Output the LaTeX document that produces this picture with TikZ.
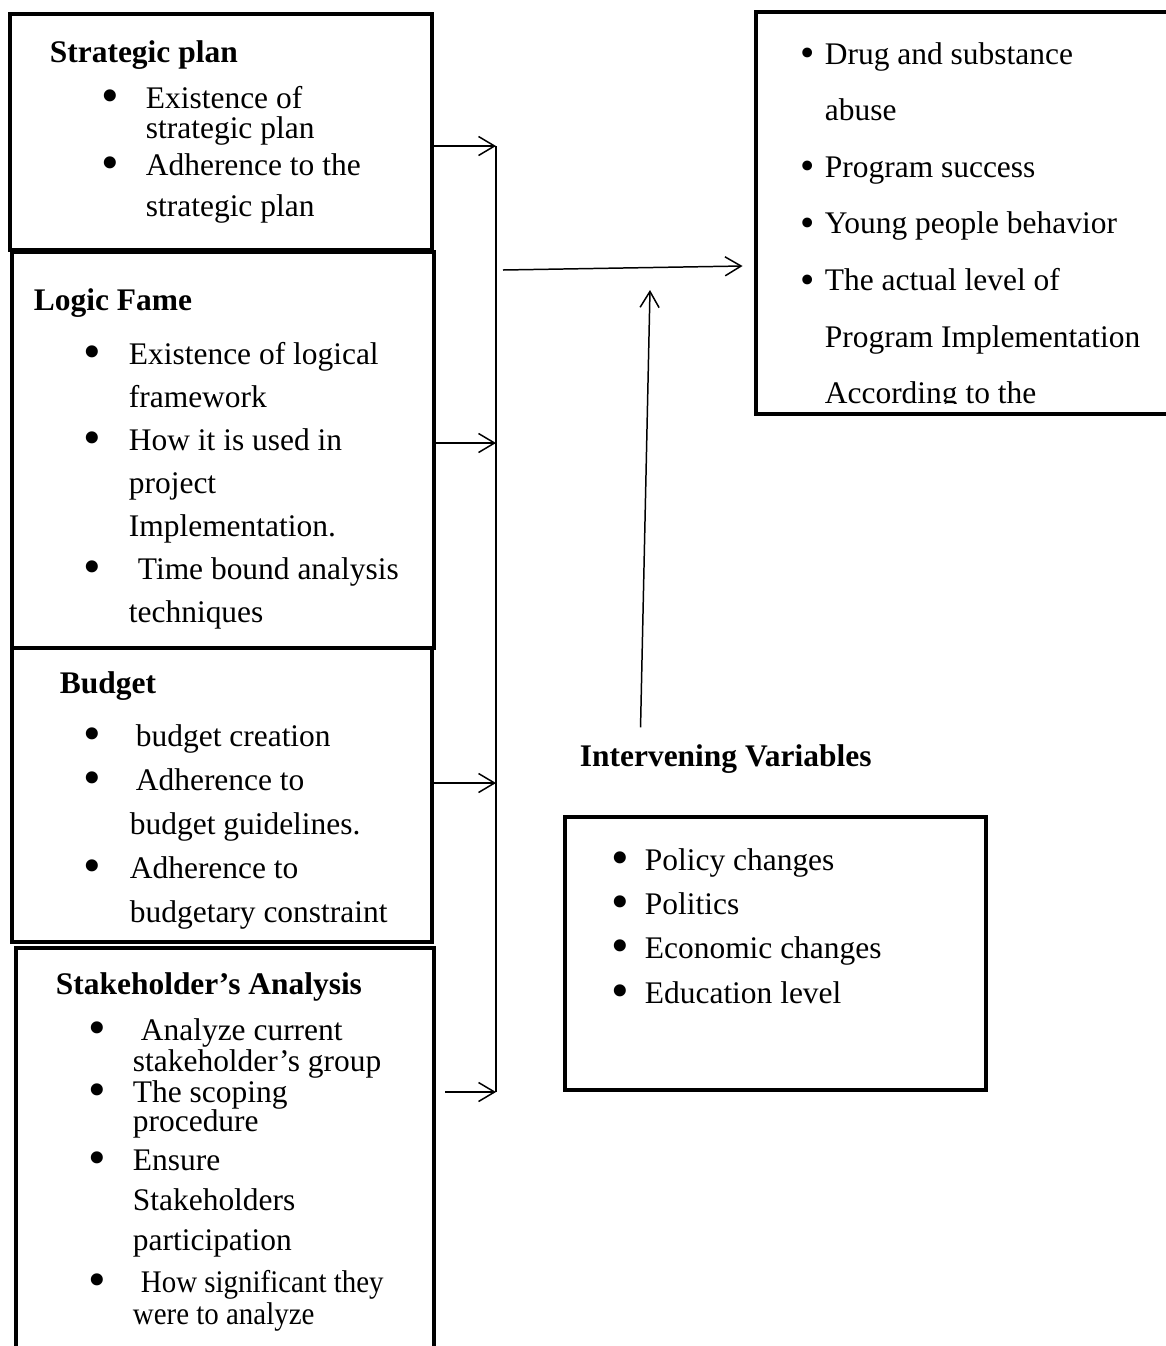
\documentclass[tikz,border=0pt]{standalone}
\usepackage{fontspec}
\setmainfont{Liberation Serif}
\usepackage{graphicx}
\usetikzlibrary{arrows.meta,positioning}

\newcommand{\bigdot}{\raisebox{-0.13em}{\scalebox{1.6}{\textbullet}}}
\newcommand{\bi}[2]{\hspace*{#1}\makebox[#2][l]{\bigdot}}
\newcommand{\si}[1]{\makebox[#1][l]{\raisebox{-0.08em}{\scalebox{1.3}{\textbullet}}}}

\begin{document}
\begin{tikzpicture}[
    box/.style={draw, line width=2.8pt, inner sep=0pt},
    txt/.style={anchor=north west, align=left, inner sep=0pt,
        font=\fontsize{17.9}{#1}\selectfont},
    heading/.style={anchor=base west, inner sep=0pt,
        font=\fontsize{17.9}{20}\selectfont\bfseries},
    link/.style={line width=0.85pt},
    arr/.style={link, -{Straight Barb[length=0.32cm, width=0.38cm]}},
]

\useasboundingbox (0,0) rectangle (23.32,-26.92);

% === Bus position ===
\def\busX{9.92}

% === Independent variables (left column) ===
\node[box, minimum width=8.44cm, minimum height=4.72cm] (sp) at (4.42,-2.64) {};
\node[box, minimum width=8.44cm, minimum height=7.92cm] (lf) at (4.46,-9.00) {};
\node[box, minimum width=8.40cm, minimum height=5.88cm] (bg) at (4.44,-15.90) {};
\node[box, minimum width=8.36cm, minimum height=8.64cm] (sh) at (4.50,-23.28) {};

\node[txt=17.1] (sptxt) at ([shift={(0.84,-0.57)}]sp.north west)
    {\textbf{Strategic plan}\\[9.1pt]
     \bi{1.04cm}{0.88cm}Existence of\\
     \hspace*{1.92cm}strategic plan\\[4pt]
     \bi{1.04cm}{0.88cm}Adherence to the\\[6.2pt]
     \hspace*{1.92cm}strategic plan};

\node[txt=24.5] (lftxt) at ([shift={(0.48,-0.77)}]lf.north west)
    {\textbf{Logic Fame}\\[6.2pt]
     \bi{1.0cm}{0.9cm}Existence of logical\\
     \hspace*{1.9cm}framework\\
     \bi{1.0cm}{0.9cm}How it is used in\\
     \hspace*{1.9cm}project\\
     \hspace*{1.9cm}Implementation.\\
     \bi{1.0cm}{0.9cm}\hspace*{0.18cm}Time bound analysis\\
     \hspace*{1.9cm}techniques};

\node[txt=25] (bgtxt) at ([shift={(1.0,-0.51)}]bg.north west)
    {\textbf{Budget}\\[5.2pt]
     \bi{0.48cm}{0.92cm}\hspace*{0.12cm}budget creation\\
     \bi{0.48cm}{0.92cm}\hspace*{0.12cm}Adherence to\\
     \hspace*{1.4cm}budget guidelines.\\
     \bi{0.48cm}{0.92cm}Adherence to\\
     \hspace*{1.4cm}budgetary constraint};

\node[txt=17.6] (shtxt) at ([shift={(0.84,-0.53)}]sh.north west)
    {\textbf{Stakeholder’s Analysis}\\[8.6pt]
     \bi{0.66cm}{0.88cm}\hspace*{0.16cm}Analyze current\\
     \hspace*{1.54cm}stakeholder’s group\\
     \bi{0.66cm}{0.88cm}The scoping\\[-1.1pt]
     \hspace*{1.54cm}procedure\\[4.6pt]
     \bi{0.66cm}{0.88cm}Ensure\\[5.2pt]
     \hspace*{1.54cm}Stakeholders\\[5.2pt]
     \hspace*{1.54cm}participation\\[6.3pt]
     \bi{0.66cm}{0.88cm}\hspace*{0.16cm}\scalebox{0.92}[1]{How significant they}\\[0.6pt]
     \hspace*{1.54cm}\scalebox{0.92}[1]{were to analyze}};

% === Dependent variable (top right) ===
\node[box, minimum width=8.58cm, minimum height=8.04cm] (oc) at (19.41,-4.26) {};
\begin{scope}
    \clip (oc.north west) rectangle ([yshift=0.26cm]oc.south east);
    \node[txt=32.2] (octxt) at ([shift={(0.94,-0.65)}]oc.north west)
        {\si{0.48cm}Drug and substance\\
         \hspace*{0.48cm}abuse\\
         \si{0.48cm}Program success\\
         \si{0.48cm}Young people behavior\\
         \si{0.48cm}The actual level of\\
         \hspace*{0.48cm}Program Implementation\\
         \hspace*{0.48cm}According to the};
\end{scope}

% === Intervening variables ===
\node[box, minimum width=8.42cm, minimum height=5.46cm] (ivb) at (15.51,-19.07) {};
\node[txt=25.2] (ivtxt) at ([shift={(0.98,-0.67)}]ivb.north west)
    {\bi{0cm}{0.66cm}Policy changes\\
     \bi{0cm}{0.66cm}Politics\\
     \bi{0cm}{0.66cm}Economic changes\\
     \bi{0cm}{0.66cm}Education level};
\node[heading] (ivl) at ([shift={(0.34,0.96)}]ivb.north west) {Intervening Variables};

% === Connectors ===
\coordinate (bus1) at (\busX,-2.92);
\coordinate (bus2) at (\busX,-8.86);
\coordinate (bus3) at (\busX,-15.66);
\coordinate (bus4) at (\busX,-21.84);
\draw[link] (bus1) -- (bus4);

\draw[arr] (sp.east |- bus1) -- (bus1);
\draw[arr] (lf.east |- bus2) -- (bus2);
\draw[arr] (bg.east |- bus3) -- (bus3);
\draw[arr] ([xshift=0.18cm]sh.east |- bus4) -- (bus4);

% bus to outcome
\coordinate (hstart) at (10.06,-5.40);
\coordinate (hend) at ([shift={(-0.22,-1.06)}]oc.west);
\draw[arr] (hstart) -- (hend);

% intervening to main arrow
\coordinate (ivtip) at (13.00,-5.80);
\draw[arr] ([shift={(1.22,0.34)}]ivl.north west) -- (ivtip);

\end{tikzpicture}
\end{document}
